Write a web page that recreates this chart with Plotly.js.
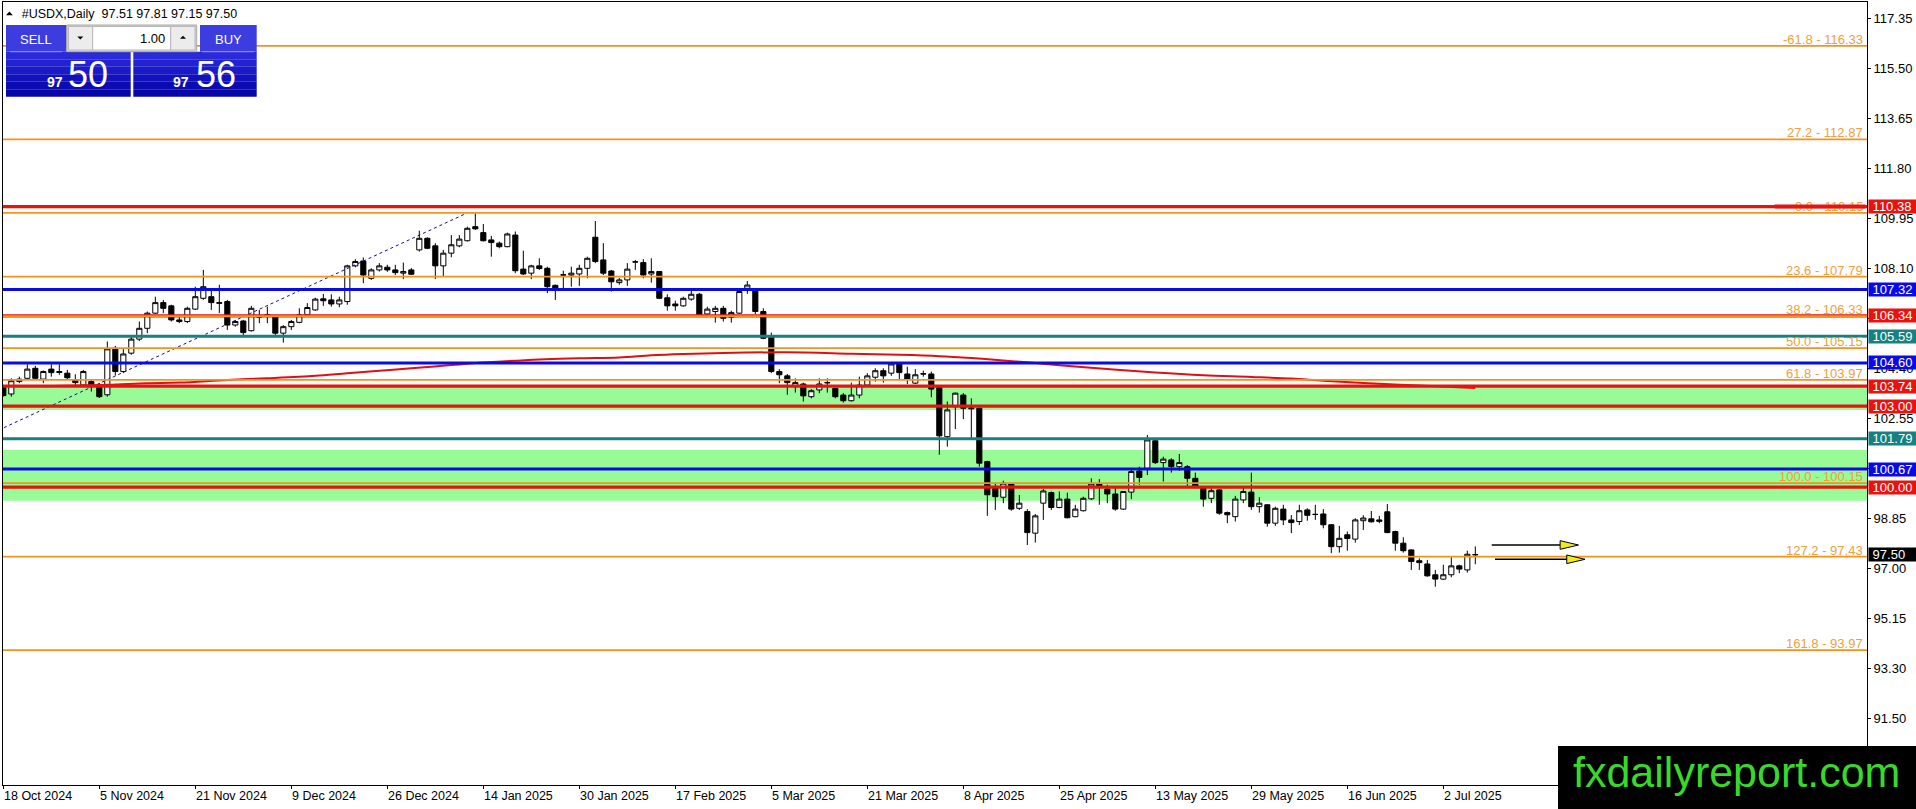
<!DOCTYPE html>
<html><head><meta charset="utf-8">
<script src="https://cdn.plot.ly/plotly-3.0.1.min.js"></script>
<style>html,body{margin:0;padding:0;background:#fff;overflow:hidden}#chart{width:1916px;height:809px}</style>
</head><body><div id="chart"></div>
<script>
// ---------------- data ----------------
const tickIdx = [0,12,24,36,48,60,72,84,96,108,120,132,144,156,168,180];
const tickLabels = ['18 Oct 2024','5 Nov 2024','21 Nov 2024','9 Dec 2024','26 Dec 2024','14 Jan 2025','30 Jan 2025','17 Feb 2025','5 Mar 2025','21 Mar 2025','8 Apr 2025','25 Apr 2025','13 May 2025','29 May 2025','16 Jun 2025','2 Jul 2025'];

const opens = [103.70,103.45,103.91,104.03,104.40,104.00,104.37,104.28,104.22,103.97,103.78,103.91,103.70,103.42,105.14,104.28,104.96,105.48,105.88,106.44,
106.83,106.71,106.19,106.13,106.59,106.99,107.05,106.83,106.87,106.00,106.15,105.79,106.31,106.37,106.31,105.70,105.94,106.10,106.38,106.56,
106.97,106.93,106.78,106.87,108.19,108.37,107.73,108.04,108.14,108.04,107.92,108.04,108.78,109.21,108.93,108.19,108.66,108.93,109.12,109.64,
109.42,109.15,109.03,108.90,109.33,108.07,107.92,108.19,108.10,107.47,107.86,107.85,107.89,108.10,109.25,108.41,108.00,107.57,107.67,108.33,
108.31,107.89,107.98,107.01,106.78,106.71,106.96,107.14,106.41,106.50,106.62,106.29,106.44,107.36,107.27,106.50,105.55,104.28,104.12,103.72,
103.82,103.35,103.60,103.86,103.66,103.41,103.20,103.41,103.78,104.07,104.31,104.22,104.56,104.19,103.85,104.20,104.19,103.69,101.87,102.98,
103.41,102.90,102.92,100.95,100.02,99.63,100.12,99.22,99.10,98.30,99.41,99.80,99.25,99.56,98.91,99.13,99.57,100.12,99.93,99.75,
99.19,99.82,100.60,100.70,101.72,100.91,101.01,100.76,100.76,100.33,99.96,99.59,99.90,99.06,98.91,99.53,99.82,99.28,99.35,98.67,
99.19,98.79,98.73,99.16,99.00,99.01,98.61,97.80,98.24,98.08,98.76,98.83,98.79,99.09,98.36,97.93,97.68,97.28,97.16,96.76,
96.60,96.76,97.09,96.94,97.51];
const highs = [103.78,104.03,104.09,104.55,104.49,104.32,104.55,104.55,104.34,104.18,104.34,103.97,103.86,105.39,105.23,105.11,105.56,106.13,106.50,107.05,
106.93,106.75,106.31,106.68,107.42,108.04,107.30,107.49,106.93,106.19,106.19,106.71,106.56,106.68,106.33,106.00,106.19,106.62,106.81,107.01,
107.15,107.14,107.05,108.23,108.44,108.50,108.10,108.29,108.23,108.23,108.31,108.11,109.49,109.25,109.03,108.78,109.33,109.33,109.64,110.14,
109.74,109.30,109.09,109.42,109.46,108.75,108.23,108.47,108.16,107.50,108.01,108.16,108.23,108.53,109.85,109.03,108.04,107.74,108.29,108.41,
108.44,108.47,108.00,107.14,106.90,107.05,107.30,107.19,106.68,106.71,106.71,106.53,107.27,107.63,107.36,106.62,105.72,104.37,104.19,104.03,
103.87,103.63,104.03,104.03,103.68,103.48,103.87,104.09,104.22,104.40,104.40,104.59,104.59,104.46,104.37,104.31,104.28,103.72,103.17,103.50,
103.48,103.29,102.95,100.98,100.12,100.24,100.15,99.71,99.19,99.01,99.93,99.84,99.84,99.80,99.35,99.65,100.33,100.30,100.09,100.02,
99.86,100.70,100.76,101.93,101.75,101.13,101.07,101.23,100.82,100.54,100.02,100.05,99.93,99.10,99.68,100.02,100.54,99.63,99.37,99.28,
99.35,98.97,99.35,99.22,99.35,99.19,98.64,98.57,98.36,98.85,98.96,99.12,98.94,99.38,98.39,98.15,97.70,97.37,97.31,96.94,
97.13,97.41,97.13,97.65,97.81];
const lows = [103.35,103.35,103.85,104.00,103.97,103.85,104.09,104.16,103.97,103.78,103.72,103.54,103.30,103.35,104.13,104.22,104.90,105.41,105.70,106.41,
106.44,106.13,106.07,106.07,106.56,106.93,106.56,106.44,105.82,105.94,105.63,105.76,106.07,106.07,105.63,105.35,105.82,106.07,106.31,106.53,
106.71,106.68,106.66,106.75,108.14,107.55,107.67,107.98,107.97,107.85,107.70,107.85,108.72,108.81,107.70,107.79,108.51,108.88,109.09,109.52,
109.09,108.53,108.84,108.88,107.92,107.85,107.70,108.04,107.18,106.93,107.36,107.42,107.45,107.73,108.29,107.85,107.24,107.49,107.45,108.04,
107.73,107.57,106.96,106.53,106.53,106.68,106.90,106.35,106.38,106.09,106.13,106.09,106.41,107.15,106.41,105.48,104.22,103.85,103.42,103.50,
103.17,103.29,103.48,103.50,103.29,103.13,103.17,103.29,103.72,103.91,103.87,104.12,103.99,103.82,103.82,104.09,103.33,101.20,101.50,102.15,
102.52,101.81,100.76,98.94,99.16,99.41,99.13,99.16,97.86,97.95,98.79,99.16,99.22,98.85,98.89,99.10,99.53,99.35,99.41,99.13,
99.16,99.56,100.09,100.45,100.86,100.21,100.54,100.61,100.05,99.96,99.28,99.41,98.98,98.67,98.73,99.41,99.16,99.06,98.54,98.57,
98.60,98.30,98.60,98.76,98.79,98.48,97.56,97.58,97.65,97.95,98.42,98.69,98.67,98.30,97.65,97.58,96.94,96.94,96.69,96.32,
96.57,96.67,96.82,96.84,97.15];
const closes = [103.39,103.94,104.00,104.37,104.03,104.28,104.24,104.25,104.05,103.87,104.28,103.72,103.35,105.12,104.28,104.93,105.48,105.88,106.44,106.83,
106.62,106.19,106.13,106.62,107.05,107.42,106.83,106.81,106.00,106.13,105.72,106.62,106.30,106.38,105.70,105.94,106.13,106.38,106.65,106.96,
106.90,106.78,106.93,108.19,108.35,107.85,108.04,108.19,108.04,107.94,107.98,107.88,109.21,108.84,108.19,108.66,108.97,109.18,109.58,109.56,
109.12,109.05,108.90,109.37,108.01,107.89,108.19,108.09,107.42,107.37,107.85,107.92,108.10,108.47,108.35,107.92,107.60,107.67,108.07,108.34,
107.85,107.98,106.99,106.71,106.71,106.99,107.14,106.38,106.59,106.62,106.25,106.46,107.24,107.48,106.50,105.51,104.28,104.16,103.87,103.87,
103.38,103.57,103.82,103.87,103.35,103.20,103.41,103.78,104.12,104.31,104.12,104.56,104.24,103.99,104.16,104.19,103.63,101.90,102.86,103.48,
102.92,102.93,100.89,99.72,99.65,100.15,99.19,99.41,98.32,98.94,99.86,99.25,99.56,98.87,99.19,99.59,100.12,100.02,99.75,99.19,
99.84,100.58,100.36,101.75,100.91,101.04,100.76,100.91,100.33,100.02,99.56,99.87,99.04,98.98,99.56,99.84,99.28,99.41,98.67,99.22,
98.79,98.69,99.13,98.96,98.99,98.61,97.80,98.11,98.10,98.79,98.86,98.72,98.74,98.32,97.93,97.65,97.25,97.21,96.72,96.60,
96.76,97.09,96.97,97.52,97.50];

// moving average curve
const maIdx = [5,13,18,22,28,33,39,43,47,51,56,60,67,72,77,81,85,90,98,106,112,117,121,125,128,132,138,144,150,156,161,165,170,177,184];
const maVal = [103.74,103.79,103.85,103.87,103.97,104.03,104.12,104.22,104.31,104.40,104.52,104.61,104.73,104.77,104.80,104.88,104.93,104.97,104.99,104.94,104.90,104.85,104.78,104.69,104.62,104.51,104.37,104.24,104.14,104.08,104.02,103.94,103.86,103.76,103.67];

// Fibonacci levels
const fibLevels = [116.33,112.87,110.15,107.79,106.33,105.15,103.97,100.15,97.43,93.97];
const fibNames  = ['-61.8','27.2','0.0','23.6','38.2','50.0','61.8','100.0','127.2','161.8'];
// horizontal support / resistance lines
const redLevels  = [110.38,106.34,103.74,103.00,100.00];
const blueLevels = [107.32,104.60,100.67];
const tealLevels = [105.59,101.79];
// green zones
const zoneLow  = [102.86,99.50];
const zoneHigh = [103.70,101.38];
// price axis (labels fully covered by the price boxes in the picture are left blank)
const priceTicks = [117.35,115.50,113.65,111.80,109.95,108.10,106.25,104.40,102.55,100.70,98.85,97.00,95.15,93.30,91.45];
const priceTickText = ['117.35','115.50','113.65','111.80','109.95','108.10','','104.40','102.55','','98.85','97.00','95.15','93.30','91.50'];
const lastPrice = 97.50;
// fib trend line anchors (bar index, price)
const trendX = [-14.9,58.0];
const trendY = [100.15,110.15];
// arrows (bar index, price)
const arrowY    = [97.862,97.333];
const arrowX0   = [186.05,186.46];
const arrowBase = [194.6,195.43];
const arrowTip  = [196.9,197.71];

// ---------------- styling ----------------
const FONT = 'Liberation Sans, Arial, sans-serif';
const RED='#e8130f', BLUE='#0a0ae6', TEAL='#178080', ORANGE='#f5921e', FIBTXT='#efa03e', GREEN='#98fb98';
const PX = x => (x-3)/1864, PY = y => (785-y)/783;

const barIdx = opens.map((_, i) => i);
const traces = [
  {type:'scatter', mode:'lines', x:trendX, y:trendY, line:{color:'#10108a', width:1, dash:'3px,3px'}, hoverinfo:'skip', showlegend:false},
  {type:'scatter', mode:'lines', x:maIdx, y:maVal, line:{color:'#e01010', width:2, shape:'spline'}, hoverinfo:'skip', showlegend:false},
  {type:'candlestick', x:barIdx, open:opens, high:highs, low:lows, close:closes,
   increasing:{line:{color:'#000', width:1}, fillcolor:'#ffffff'},
   decreasing:{line:{color:'#000', width:1}, fillcolor:'#000000'},
   whiskerwidth:0, hoverinfo:'skip', showlegend:false}
];

const shapes = [];
zoneLow.forEach((lo, k) => shapes.push({type:'rect', xref:'paper', yref:'y', x0:0, x1:1, y0:lo, y1:zoneHigh[k], fillcolor:GREEN, line:{width:0}, layer:'below'}));
function hline(v, color, w){ shapes.push({type:'line', xref:'paper', yref:'y', x0:0, x1:1, y0:v, y1:v, line:{color:color, width:w}, layer:'above'}); }
redLevels.forEach(v => hline(v, RED, 3.3));
blueLevels.forEach(v => hline(v, BLUE, 3));
tealLevels.forEach(v => hline(v, TEAL, 3));
fibLevels.forEach(v => hline(v, ORANGE, 1.8));

// arrows
arrowY.forEach((y, k) => {
  shapes.push({type:'line', xref:'x', yref:'y', x0:arrowX0[k], x1:arrowBase[k], y0:y, y1:y, line:{color:'#000', width:1.6}, layer:'above'});
  const h = 0.16;
  shapes.push({type:'path', xref:'x', yref:'y', path:`M ${arrowBase[k]},${y+h} L ${arrowTip[k]},${y} L ${arrowBase[k]},${y-h} Z`, fillcolor:'#eded1e', line:{color:'#000', width:1}, layer:'above'});
});

// trading panel
function rectPx(x0,y0,x1,y1,fill,line){ shapes.push({type:'rect', xref:'paper', yref:'paper', x0:PX(x0), x1:PX(x1), y0:PY(y1), y1:PY(y0), fillcolor:fill, line:line||{width:0}, layer:'above'}); }
function pathPx(pts, fill){ shapes.push({type:'path', xref:'paper', yref:'paper', path:'M '+pts.map(p=>PX(p[0])+','+PY(p[1])).join(' L ')+' Z', fillcolor:fill, line:{width:0}, layer:'above'}); }
const grad = ['#2a2ad8','#2222d0','#1a1ac6','#1212bc','#0b0bb2','#0606a8'];
grad.forEach((c, k) => {
  const y0 = 51.7 + k*7.5, y1 = y0 + 7.6;
  rectPx(6, y0, 130.7, y1, c);
  rectPx(133.3, y0, 256.7, y1, c);
});
rectPx(6, 25, 66.7, 51.7, '#3d3ddf');
rectPx(200, 25, 256.7, 51.7, '#3d3ddf');
rectPx(10, 51, 62, 52.2, '#8a8aee');
rectPx(202, 51, 254, 52.2, '#8a8aee');
rectPx(66.7, 25, 196.7, 51.7, '#d6d6d6', {color:'#a8a8a8', width:1});
rectPx(68.5, 26.5, 92.7, 50, '#ececec', {color:'#b8b8b8', width:1});
rectPx(92.7, 26.5, 170.7, 50, '#ffffff', {color:'#b8b8b8', width:1});
rectPx(170.7, 26.5, 195, 50, '#ececec', {color:'#b8b8b8', width:1});
pathPx([[77.3,36.6],[83.3,36.6],[80.3,39.6]], '#000');
pathPx([[180,38.8],[186,38.8],[183,35.8]], '#000');
// title triangle
pathPx([[6,15.2],[12.8,15.2],[9.4,11.6]], '#000');
// watermark box
rectPx(1558, 746, 1917, 810, '#000000');

const annotations = [];
fibLevels.forEach((v, k) => annotations.push({xref:'paper', yref:'y', x:1, y:v, xanchor:'right', yanchor:'middle', xshift:-2, yshift:6.5,
  text:fibNames[k]+' - '+v.toFixed(2), showarrow:false, font:{family:FONT, size:13, color:FIBTXT}}));
// red line crossing the 0.0 label
annotations.push({xref:'paper', yref:'y', x:1, y:redLevels[0], xanchor:'right', yanchor:'middle', xshift:-1, text:' ', width:90, height:3.3, borderpad:0, bgcolor:RED, showarrow:false, font:{size:2}});
// right side price boxes
const boxes = [];
redLevels.forEach(v => boxes.push([v, RED]));
blueLevels.forEach(v => boxes.push([v, BLUE]));
tealLevels.forEach(v => boxes.push([v, TEAL]));
boxes.push([lastPrice, '#000000']);
boxes.forEach(b => annotations.push({xref:'paper', yref:'y', x:1, y:b[0], xanchor:'left', yanchor:'middle', xshift:1,
  text:'\u00a0' + b[0].toFixed(2), align:'left', width:48, height:12.5, borderpad:0, bgcolor:b[1], showarrow:false,
  font:{family:FONT, size:13, color:'#ffffff'}}));
// date labels
tickIdx.forEach((t, k) => annotations.push({xref:'x', yref:'paper', x:t, y:0, xanchor:'left', yanchor:'middle', xshift:-1, yshift:-11,
  text:tickLabels[k], showarrow:false, font:{family:FONT, size:12.5, color:'#000'}}));
// panel texts
function txt(s, x, y, size, color, anchor){ annotations.push({xref:'paper', yref:'paper', x:PX(x), y:PY(y), xanchor:anchor||'center', yanchor:'middle', text:s, showarrow:false, font:{family:FONT, size:size, color:color}}); }
txt('SELL', 35.7, 39.3, 13, '#ffffff');
txt('BUY', 228.3, 39.3, 13, '#ffffff');
txt('1.00', 166.5, 38.2, 13, '#000000', 'right');
txt('<b>97</b>', 55, 82.3, 14, '#ffffff');
txt('50', 88.3, 74.5, 36, '#ffffff');
txt('<b>97</b>', 181.3, 82.3, 14, '#ffffff');
txt('56', 216.2, 74.5, 36, '#ffffff');
txt('fxdailyreport.com', 1736.5, 771.7, 43, '#38d92a');

const layout = {
  width:1916, height:809,
  margin:{l:3, r:49, t:2, b:24, pad:0},
  paper_bgcolor:'#ffffff', plot_bgcolor:'#ffffff',
  showlegend:false,
  boxgap:0.2, boxgroupgap:0.2,
  title:{text:'#USDX,Daily\u00a0 97.51 97.81 97.15 97.50', x:21.7/1916, xanchor:'left', xref:'container', y:1-13.3/809, yanchor:'middle', yref:'container', font:{family:FONT, size:12.5, color:'#000'}},
  xaxis:{range:[-0.04,232.96], showgrid:false, zeroline:false, showline:true, mirror:true, linecolor:'#000', linewidth:1,
         tickmode:'array', tickvals:tickIdx, ticks:'outside', ticklen:3, tickcolor:'#000', showticklabels:false,
         rangeslider:{visible:false}, fixedrange:true},
  yaxis:{range:[88.982,117.953], side:'right', showgrid:false, zeroline:false, showline:true, mirror:true, linecolor:'#000', linewidth:1,
         tickmode:'array', tickvals:priceTicks, ticktext:priceTickText, ticks:'outside', ticklen:3, tickcolor:'#000',
         tickfont:{family:FONT, size:13, color:'#000'}, fixedrange:true},
  shapes:shapes, annotations:annotations
};
Plotly.newPlot('chart', traces, layout, {staticPlot:true, displayModeBar:false});
</script></body></html>
